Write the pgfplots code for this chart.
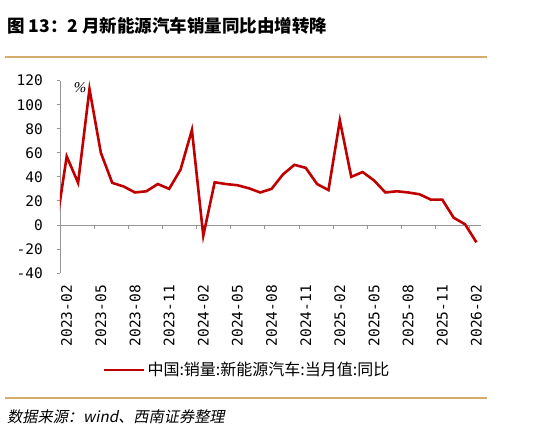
\documentclass[border=0pt]{standalone}
\usepackage{pgfplots}
\pgfplotsset{compat=1.18}
\usepackage{pgfplotstable}
\usepackage{fontspec}
\setmainfont{Liberation Sans}
\newfontfamily\cjk{Noto Sans CJK SC}
\newfontfamily\cjkit{Noto Sans CJK SC}[FakeSlant=0.2]
\newfontfamily\mono{DejaVu Sans Mono}
\newfontfamily\serifit{Liberation Serif}
\definecolor{tanline}{RGB}{214,172,108}
\definecolor{axgray}{RGB}{150,150,150}
\definecolor{linered}{RGB}{192,0,0}
\pgfplotstableread{
x y
0 -6
1 57
2 35
3 113
4 60
5 35
6 32
7 27
8 28
9 34
10 30
11 46
12 79
13 -9
14 35.5
15 34
16 33
17 30.5
18 27
19 30
20 42
21 50
22 47.5
23 34
24 29
25 87
26 40
27 44
28 37
29 27
30 28
31 27
32 25.5
33 21
34 21
35 6
36 0.5
37 -14.5
}\nev
\begin{document}
\begin{tikzpicture}
\useasboundingbox (0,0) rectangle (539pt,430pt);
\begin{axis}[
  at={(60pt,157pt)}, anchor=south west,
  scale only axis, width=421pt, height=192.3pt,
  xmin=0.41, xmax=37.4, ymin=-40, ymax=120,
  axis x line=bottom, axis y line=left,
  x axis line style={draw=none,-},
  y axis line style={axgray,line width=0.8pt,-},
  tick align=outside,
  major tick length=3pt,
  major x tick style={draw=none},
  y tick style={axgray,line width=0.8pt},
  xtick={1,4,7,10,13,16,19,22,25,28,31,34,37},
  xticklabels={2023-02,2023-05,2023-08,2023-11,2024-02,2024-05,2024-08,2024-11,2025-02,2025-05,2025-08,2025-11,2026-02},
  xticklabel style={rotate=90,anchor=east,inner sep=0pt,font=\mono\fontsize{14.5}{16}\selectfont},
  xticklabel shift=9pt,
  ytick={-40,-20,0,20,40,60,80,100,120},
  yticklabels={-40,-20,0,20,40,60,80,100,120},
  yticklabel style={anchor=east,inner sep=0pt,font=\mono\fontsize{14.5}{16}\selectfont},
  yticklabel shift=14pt,
  extra y ticks={0},
  extra y tick labels={},
  extra y tick style={grid=major,major grid style={axgray,line width=0.8pt}},
  legend style={at={(0.102,-0.504)},anchor=west,draw=none,fill=none,inner sep=0pt,
    font=\cjk\fontsize{16}{18}\selectfont,legend cell align=left},
  legend image code/.code={\draw[#1,line width=2.4pt] (0pt,0pt) -- (40pt,0pt);},
]
\addplot[linered,line width=2.6pt,line join=miter,no marks] table[x=x,y=y] {\nev};
\addlegendentry{中国:销量:新能源汽车:当月值:同比}
\pgfplotsinvokeforeach{0.41,3.41,6.41,9.41,12.41,15.41,18.41,21.41,24.41,27.41,30.41,33.41,36.41}{
  \draw[axgray,line width=0.8pt] (axis cs:#1,0) -- ++(0pt,-4pt);
}
\end{axis}
\node[anchor=center,inner sep=0pt] at (80pt,342pt) {\serifit\itshape\fontsize{15}{16}\selectfont\%};
\node[anchor=west,inner sep=0pt] at (7pt,404.5pt) {\cjk\bfseries\fontsize{17.5}{19}\selectfont 图 13：2 月新能源汽车销量同比由增转降};
\draw[tanline,line width=2pt] (5pt,373pt) -- (487pt,373pt);
\draw[tanline,line width=2pt] (5pt,32pt) -- (487pt,32pt);
\node[anchor=west,inner sep=0pt] at (7pt,13.3pt) {\cjkit\fontsize{15.2}{17}\selectfont 数据来源：wind、西南证券整理};
\end{tikzpicture}
\end{document}
